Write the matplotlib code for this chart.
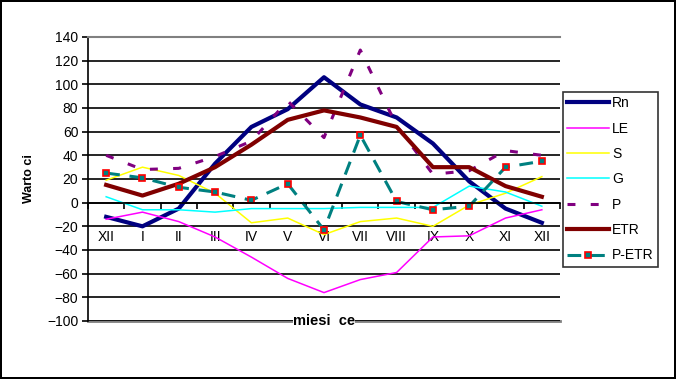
import numpy as np
import matplotlib
matplotlib.use("Agg")
import matplotlib.pyplot as plt

plt.rcParams['font.family'] = ['Liberation Sans', 'DejaVu Sans']

months = ['XII', 'I', 'II', 'III', 'IV', 'V', 'VI', 'VII', 'VIII', 'IX', 'X', 'XI', 'XII']
rn = [-12, -20, -5, 33, 64, 79, 106, 83, 72, 50, 18, -5, -17]
le = [-14, -8, -16, -29, -46, -64, -76, -65, -59, -29, -28, -13, -6]
s = [19, 30, 23, 8, -17, -13, -27, -16, -13, -20, -2, 8, 22]
g = [5, -6, -6, -8, -5, -5, -5, -4, -4, -4, 14, 9, -3]
p = [40, 28, 29, 39, 52, 86, 55, 129, 65, 24, 27, 44, 40]
etr = [15, 6, 16, 30, 49, 70, 78, 72, 64, 30, 30, 14, 5]
p_etr = [25, 21, 13, 9, 2, 16, -23, 57, 1, -6, -3, 30, 35]

fig = plt.figure(figsize=(6.76, 3.79), dpi=100)
fig.patch.set_edgecolor('black')
fig.patch.set_linewidth(1.5)
ax = fig.add_axes([88/676, 1 - 321/379, (560-88)/676, (321-37)/379])

x = np.arange(len(months))

ax.plot(x, rn, color='#000080', lw=3, label='Rn', solid_joinstyle='round')
ax.plot(x, le, color='#FF00FF', lw=1.1, label='LE')
ax.plot(x, s, color='#FFFF00', lw=1.1, label='S')
ax.plot(x, g, color='#00FFFF', lw=1.1, label='G')
ax.plot(x, p, color='#800080', lw=2.2, dashes=(2.6, 5), label='P')
ax.plot(x, etr, color='#800000', lw=3, label='ETR', solid_joinstyle='round')
ax.plot(x, p_etr, color='#008080', lw=2.2, dashes=(4.5, 3.2), label='P-ETR',
        marker='s', markersize=5, markerfacecolor='#008080',
        markeredgecolor='red', markeredgewidth=1.2)

ax.set_xlim(-0.5, len(months) - 0.5)
ax.set_ylim(-100, 140)
ax.set_yticks(range(-100, 141, 20))
ax.tick_params(axis='y', direction='out', length=4, width=1.2, labelsize=10, pad=3)
ax.yaxis.grid(True, color='black', lw=1.2)
ax.set_axisbelow(True)

ax.spines['bottom'].set_position(('data', 0))
ax.spines['bottom'].set_color('black')
ax.spines['bottom'].set_linewidth(1.2)
ax.spines['left'].set_linewidth(1.2)
ax.spines['top'].set_color('#808080')
ax.spines['top'].set_linewidth(1.5)
ax.spines['right'].set_visible(False)
ax.axhline(-100, color='#808080', lw=2, clip_on=False, zorder=0)

ax.set_xticks(x)
ax.set_xticklabels(months)
ax.set_xticks(np.arange(-0.5, len(months), 1), minor=True)
ax.tick_params(axis='x', which='major', length=0, labelsize=10, pad=20)
ax.tick_params(axis='x', which='minor', direction='out', length=4, width=1.2)

ax.set_ylabel('Warto ci', fontsize=9, fontweight='bold', labelpad=9)
ax.text(0.5, 0, 'miesi  ce', transform=ax.transAxes, ha='center', va='center',
        fontsize=10.5, fontweight='bold',
        bbox=dict(facecolor='white', edgecolor='none', pad=0))

leg = fig.legend(loc='upper left', bbox_to_anchor=(563/676, 1 - 92/379),
                 frameon=True, fancybox=False, edgecolor='black', fontsize=10,
                 handlelength=3.0, labelspacing=0.82, borderpad=0.3,
                 handletextpad=0.25, numpoints=1, borderaxespad=0)
leg.get_frame().set_linewidth(1.2)

fig.savefig('out.png', dpi=100, edgecolor=fig.get_edgecolor())
